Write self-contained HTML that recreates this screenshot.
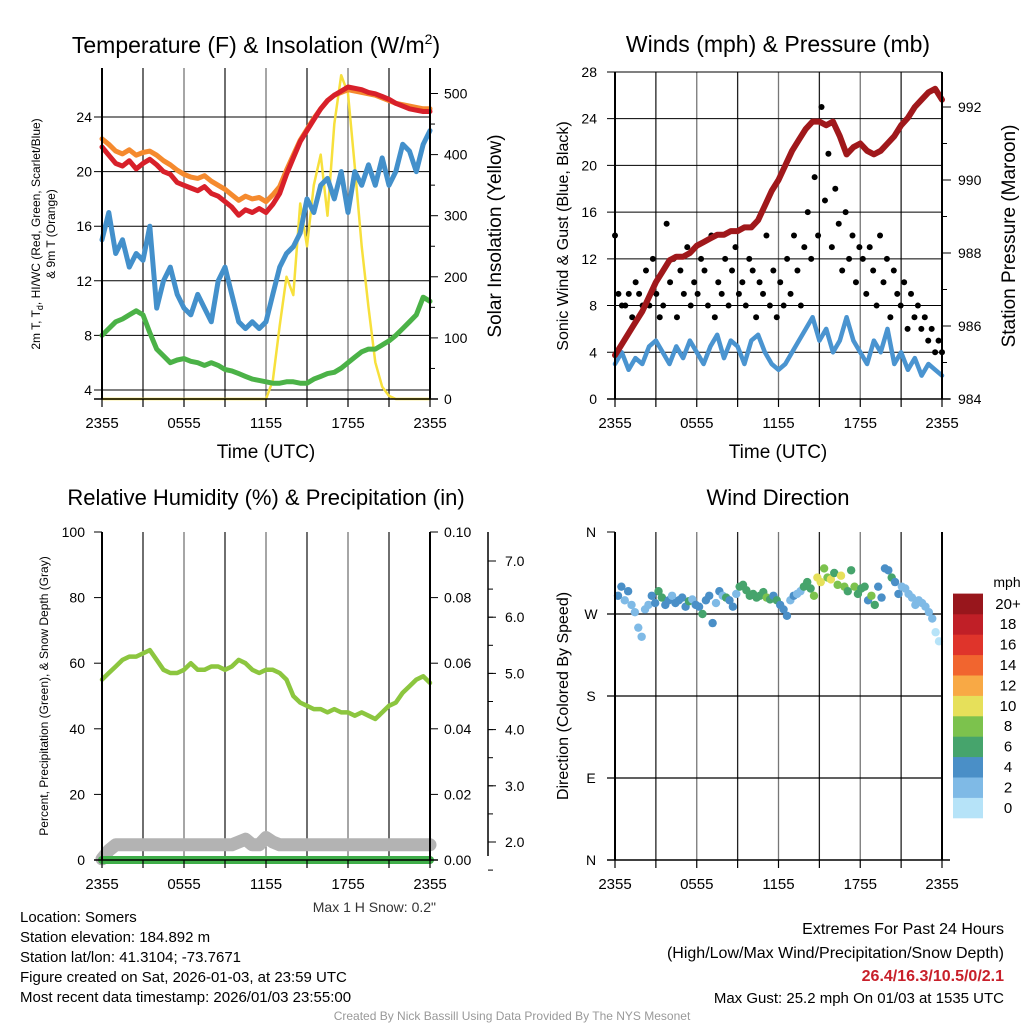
<!DOCTYPE html>
<html><head><meta charset="utf-8"><style>
body{margin:0;background:#fff}
svg text{font-family:"Liberation Sans",Arial,sans-serif}
</style></head><body>
<svg id="c" width="1024" height="1024" viewBox="0 0 1024 1024" xmlns="http://www.w3.org/2000/svg">
<rect width="1024" height="1024" fill="#fff"/>
<g id="g"></g>
</svg>
<script>
// ---------- DATA ----------
const timeTicks = ["2355","0555","1155","1755","2355"];
const tempTicks = [4,8,12,16,20,24];
const solarTicks = [0,100,200,300,400,500];
const tempT = [21.8,21.2,20.6,20.4,20.8,20.2,20.6,20.9,20.5,20.0,19.8,19.2,19.0,18.8,18.6,18.9,18.4,18.2,17.8,17.4,16.8,17.2,17.0,17.3,17.0,17.6,18.4,19.8,21.0,22.2,23.0,23.8,24.6,25.2,25.6,25.9,26.2,26.1,26.0,25.8,25.7,25.5,25.3,25.0,24.8,24.6,24.5,24.4,24.4];
const temp9m = [22.4,22.0,21.5,21.3,21.6,21.2,21.4,21.5,21.2,20.8,20.5,20.1,19.8,19.6,19.5,19.7,19.3,19.0,18.7,18.3,17.9,18.2,18.0,18.1,17.8,18.3,18.9,20.1,21.2,22.3,23.1,23.9,24.6,25.2,25.6,25.8,26.0,25.9,25.8,25.7,25.6,25.4,25.2,25.0,24.9,24.8,24.7,24.6,24.6];
const dewGreen = [8.0,8.5,9.0,9.2,9.5,9.8,9.5,8.2,7.0,6.5,6.0,6.2,6.3,6.1,6.0,5.8,6.0,5.8,5.5,5.4,5.2,5.0,4.8,4.7,4.6,4.5,4.5,4.6,4.6,4.5,4.5,4.8,5.0,5.2,5.3,5.6,6.0,6.4,6.8,7.0,7.0,7.3,7.6,8.0,8.5,9.0,9.5,10.8,10.5];
const hiBlue = [15,17,14,15,13,14,13.5,16,10,12,13,11,10,9.5,11,10,9,12,13,11,9,8.5,9,8.5,9,11,13,14,14.5,15.5,18,17,19,19.5,18,20,17,20,19,20.5,19,21,19,20,22,21.5,20,22,23];
const solar = [0,0,0,0,0,0,0,0,0,0,0,0,0,0,0,0,0,0,0,0,0,0,0,0,0,30,120,200,170,320,250,350,400,300,450,530,500,380,250,150,60,20,5,0,0,0,0,0,0];

const windTicks = [0,4,8,12,16,20,24,28];
const presTicks = [984,986,988,990,992];
const sonicWind = [3,4,2.5,3.5,3,4.5,5,4,3,4.5,3.5,5,4,3,4.5,5.5,3.5,5,4.5,3,5,5.5,4,3,2.5,3,4,5,6,7,5,6,4,5,7,5,4,3,5,4,6,3,4,2.5,3.5,2,3,2.5,2];
const pressure = [985.2,985.5,985.8,986.1,986.4,986.8,987.2,987.5,987.8,987.9,987.9,988.0,988.2,988.3,988.4,988.5,988.5,988.6,988.6,988.7,988.7,988.9,989.3,989.7,990.0,990.4,990.8,991.1,991.4,991.6,991.6,991.5,991.6,991.2,990.7,990.9,991.0,990.8,990.7,990.8,991.0,991.2,991.5,991.7,992.0,992.2,992.4,992.5,992.2];
const gusts = [14,9,8,8,9,7,10,9,8,11,8,12,9,7,8,15,10,12,7,11,9,13,8,10,
 9,12,11,8,14,7,10,9,12,8,11,13,9,10,8,12,11,7,10,9,14,8,11,7,
 10,8,12,9,14,11,8,13,16,12,19,14,25,17,21,13,18,15,11,16,12,14,10,13,
 12,9,13,11,8,14,10,12,7,11,9,8,10,6,9,7,8,6,7,5,6,4,5,4];

const rhTicks = [0,20,40,60,80,100];
const precipTicks = ["0.00","0.02","0.04","0.06","0.08","0.10"];
const snowTicks = [2.0,3.0,4.0,5.0,6.0,7.0];
const rh = [55,57,59,61,62,62,63,64,61,58,57,57,58,60,58,58,59,59,58,59,61,60,58,57,58,58,57,55,50,48,47,46,46,45,46,45,45,44,45,44,43,45,47,48,51,53,55,56,54];
const precip = [0,0,0,0,0,0,0,0,0,0,0,0,0,0,0,0,0,0,0,0,0,0,0,0,0,0,0,0,0,0,0,0,0,0,0,0,0,0,0,0,0,0,0,0,0,0,0,0,0];
const snowDepth = [1.7,1.85,1.95,1.95,1.95,1.95,1.95,1.95,1.95,1.95,1.95,1.95,1.95,1.95,1.95,1.95,1.95,1.95,1.95,1.95,2.0,2.05,1.95,1.95,2.08,2.0,1.95,1.95,1.95,1.95,1.95,1.95,1.95,1.95,1.95,1.95,1.95,1.95,1.95,1.95,1.95,1.95,1.95,1.95,1.95,1.95,1.95,1.95,1.95];

const dirTicks = ["N","E","S","W","N"];
const windDir = [290,300,285,295,280,272,255,245,275,280,290,282,
 295,288,280,285,290,282,285,288,278,284,286,280,
 278,270,285,290,260,282,295,290,288,285,278,292,
 300,302,296,290,292,288,290,294,288,286,290,285,
 280,275,268,285,290,292,295,300,305,298,290,310,
 305,320,310,308,315,302,312,300,295,318,300,292,
 298,300,285,290,280,300,288,320,318,310,305,292,
 300,298,292,288,280,285,282,278,272,265,250,240];
const dirSpeed = [4,4,3,4,2,2,2,2,2,3,4,5, 6,6,4,4,3,4,5,4,4,6,3,4, 5,6,4,4,4,3,4,3,6,4,4,3,
 6,7,7,6,7,6,7,6,8,6,5,7, 5,4,4,3,4,3,3,6,6,7,9,11, 10,9,8,11,7,8,10,9,6,7,8,6,
 7,6,5,9,7,4,4,4,5,6,4,4, 3,3,2,3,2,2,2,2,2,2,1,1];
const cbLabels = ["0","2","4","6","8","10","12","14","16","18","20+"];
const cbColors = ["#b6e3f8","#7fbae6","#4a8fc7","#46a46c","#7cc24d","#e6e05a","#f8a945","#f1652f","#df342b","#c01f27","#98161c"];

// ---------- DRAW ----------
const NS="http://www.w3.org/2000/svg";
const G=document.getElementById('g');
function el(tag,attrs,parent){const e=document.createElementNS(NS,tag);for(const k in attrs)e.setAttribute(k,attrs[k]);(parent||G).appendChild(e);return e;}
function txt(s,x,y,size,anchor,parent,extra){const t=el('text',Object.assign({x:x,y:y,'font-size':size,'text-anchor':anchor||'middle',fill:'#000'},extra||{}),parent);t.textContent=s;return t;}
function lin(x1,y1,x2,y2,c,w,parent){return el('line',{x1,y1,x2,y2,stroke:c,'stroke-width':w},parent);}
function poly(xs,ys,c,w,parent){const p=xs.map((x,i)=>x.toFixed(1)+','+ys[i].toFixed(1)).join(' ');return el('polyline',{points:p,fill:'none',stroke:c,'stroke-width':w,'stroke-linejoin':'round','stroke-linecap':'round'},parent);}
function group(name){const g=el('g',{});return g;}

function timeAxis(g,x0,x1,yb){
  for(let k=0;k<=8;k++){const x=x0+(x1-x0)*k/8;lin(x,yb,x,yb+8,'#000',1.2,g);}
  timeTicks.forEach((s,k)=>{const t=txt(s,x0+(x1-x0)*k/4,yb+29,15,'middle',g);});
}
function vgrid(g,x0,x1,yt,yb){for(let k=1;k<8;k++){const x=x0+(x1-x0)*k/8;lin(x,yt,x,yb,k%2?'#222':'#777',1.3,g);}}

// ===== Panel 1 =====
(function(){
 const g=group('temperature-panel');
 const X0=102,X1=430,YT=68,YB=399;
 const n=tempT.length;
 const xs=i=>X0+(X1-X0)*i/(n-1);
 const yT=v=>390-(v-4)*13.65;
 const yS=v=>399-v*0.611;
 vgrid(g,X0,X1,YT,YB);
 tempTicks.forEach(v=>{lin(X0-8,yT(v),X1,yT(v),'#000',1,g);const t=txt(String(v),92,yT(v)+5,14,'end',g);});
 solarTicks.forEach(v=>{lin(X1,yS(v),X1+8,yS(v),'#000',1,g);const t=txt(String(v),444,yS(v)+5,14,'start',g);});
 for(let v=50;v<540;v+=100)lin(X1,yS(v),X1+5,yS(v),'#000',1,g);
 const idx=[...Array(n).keys()];
 const sl=poly(idx.map(xs),solar.map(yS),'#f7e03c',2.5,g);
 const bl=poly(idx.map(xs),hiBlue.map(yT),'#4390cb',5,g);
 const gl=poly(idx.map(xs),dewGreen.map(yT),'#4bb247',5,g);
 const ol=poly(idx.map(xs),temp9m.map(yT),'#f58a2e',5,g);
 const rl=poly(idx.map(xs),tempT.map(yT),'#d8202a',5,g);
 lin(X0,YT,X0,YB,'#000',2,g);lin(X1,YT,X1,YB,'#000',2,g);lin(X0-8,YB,X1+8,YB,'#000',1.5,g);
 timeAxis(g,X0,X1,YB);
 const tt=txt('Temperature (F) & Insolation (W/m',256,53,23,'middle',g);const ts=el('tspan',{dy:-9,'font-size':14},tt);ts.textContent='2';const ts2=el('tspan',{dy:9},tt);ts2.textContent=')';
 
 const xt=txt('Time (UTC)',266,458,19,'middle',g);
 const yl=el('text',{transform:'translate(40,234) rotate(-90)','font-size':12,'text-anchor':'middle'},g);
 yl.appendChild(document.createTextNode('2m T, T'));
 const sub=el('tspan',{dy:3,'font-size':9},yl);sub.textContent='d';
 const rest=el('tspan',{dy:-3},yl);rest.textContent=', HI/WC (Red, Green, Scarlet/Blue)';
 
 const yl2=el('text',{transform:'translate(55,234) rotate(-90)','font-size':12,'text-anchor':'middle'},g);yl2.textContent='& 9m T (Orange)';
 const yr=el('text',{transform:'translate(501,236) rotate(-90)','font-size':19,'text-anchor':'middle'},g);yr.textContent='Solar Insolation (Yellow)';
})();

// ===== Panel 2 =====
(function(){
 const g=group('winds-panel');
 const X0=615,X1=942,YT=72,YB=399;
 const n=pressure.length;
 const xs=i=>X0+(X1-X0)*i/(n-1);
 const yW=v=>399-v*11.68;
 const yP=v=>399-(v-984)*36.5;
 vgrid(g,X0,X1,YT,YB);
 windTicks.forEach(v=>{lin(X0-8,yW(v),X1,yW(v),'#000',1,g);const t=txt(String(v),597,yW(v)+5,14,'end',g);});
 presTicks.forEach(v=>{lin(X1,yP(v),X1+9,yP(v),'#000',1,g);const t=txt(String(v),958,yP(v)+5,14,'start',g);});
 for(let v=985;v<993;v+=2)lin(X1,yP(v),X1+5,yP(v),'#000',1,g);
 const idx=[...Array(n).keys()];
 const bl=poly(idx.map(xs),sonicWind.map(yW),'#4a94d0',4.5,g);
 gusts.forEach((v,i)=>{const c=el('circle',{cx:X0+(X1-X0)*i/(gusts.length-1),cy:yW(v),r:3,fill:'#000'},g);
  
  });
 const pl=poly(idx.map(xs),pressure.map(yP),'#a0181b',6,g);
 lin(X0,YT,X0,YB,'#000',2,g);lin(X1,YT,X1,YB,'#000',2,g);lin(X0-8,YB,X1+8,YB,'#000',1.5,g);
 timeAxis(g,X0,X1,YB);
 const tt=txt('Winds (mph) & Pressure (mb)',778,52,23,'middle',g);
 const xt=txt('Time (UTC)',778,458,19,'middle',g);
 const yl=el('text',{transform:'translate(568,236) rotate(-90)','font-size':16,'text-anchor':'middle'},g);yl.textContent='Sonic Wind & Gust (Blue, Black)';
 const yr=el('text',{transform:'translate(1015,236) rotate(-90)','font-size':19,'text-anchor':'middle'},g);yr.textContent='Station Pressure (Maroon)';
})();

// ===== Panel 3 =====
(function(){
 const g=group('humidity-panel');
 const X0=102,X1=430,YT=532,YB=860;
 const n=rh.length;
 const xs=i=>X0+(X1-X0)*i/(n-1);
 const yR=v=>860-v*3.28;
 const yPr=v=>860-v*3280;
 const ySn=v=>842-(v-2)*56.2;
 vgrid(g,X0,X1,YT,YB);
 rhTicks.forEach(v=>{lin(X0-8,yR(v),X0,yR(v),'#000',1,g);const t=txt(String(v),85,yR(v)+5,14,'end',g);});
 precipTicks.forEach((s,k)=>{const y=860-k*65.6;lin(X1,y,X1+8,y,'#000',1,g);const t=txt(s,444,y+5,14,'start',g);});
 lin(488,532,488,856,'#000',1.5,g);
 snowTicks.forEach(v=>{lin(488,ySn(v),496,ySn(v),'#000',1,g);const t=txt(v.toFixed(1),505,ySn(v)+5,14,'start',g);});
 for(let v=1.5;v<7.5;v+=0.5)lin(488,ySn(v),493,ySn(v),'#000',1,g);
 const idx=[...Array(n).keys()];
 const sl=poly(idx.map(xs),snowDepth.map(ySn),'#b3b3b3',13,g);
 const pl=poly(idx.map(xs),precip.map(yPr),'#3fae49',8,g);
 const rl=poly(idx.map(xs),rh.map(yR),'#8cc63f',4.5,g);
 lin(X0,YT,X0,YB,'#000',2,g);lin(X1,YT,X1,YB,'#000',2,g);lin(X0-8,YB,X1+8,YB,'#000',1.5,g);
 timeAxis(g,X0,X1,YB);
 const tt=txt('Relative Humidity (%) & Precipitation (in)',266,505,22,'middle',g);
 const yl=el('text',{transform:'translate(48,696) rotate(-90)','font-size':12,'text-anchor':'middle'},g);yl.textContent='Percent, Precipitation (Green), & Snow Depth (Gray)';
 const ms=txt('Max 1 H Snow: 0.2"',436,912,14,'end',g,{fill:'#333'});
})();

// ===== Panel 4 =====
(function(){
 const g=group('wind-direction-panel');
 const X0=615,X1=942,YT=532,YB=860;
 const yD=v=>860-v/360*328;
 const n=windDir.length;
 vgrid(g,X0,X1,YT,YB);
 dirTicks.forEach((s,k)=>{const y=yD(k*90);if(k>0&&k<4)lin(X0-8,y,X1,y,'#000',1.2,g);else lin(X0-8,y,X0,y,'#000',1,g);const t=txt(s,591,y+5,14,'middle',g);});
 windDir.forEach((d,i)=>{const ci=Math.min(10,Math.floor(dirSpeed[i]/2));const c=el('circle',{cx:X0+3+(X1-X0-6)*i/(n-1),cy:yD(d),r:4.2,fill:cbColors[ci]},g);
  
  });
 lin(X0,YT,X0,YB,'#000',2,g);lin(X1,YT,X1,YB,'#000',2,g);lin(X0-8,YB,X1+8,YB,'#000',1.5,g);
 timeAxis(g,X0,X1,YB);
 const tt=txt('Wind Direction',778,505,22,'middle',g);
 const yl=el('text',{transform:'translate(568,696) rotate(-90)','font-size':16,'text-anchor':'middle'},g);yl.textContent='Direction (Colored By Speed)';
 const cb=group('speed-colorbar');
 const bh=20.4;
 cbColors.forEach((c,k)=>{const r=el('rect',{x:953,y:818-(k+1)*bh,width:30,height:bh+0.3,fill:c},cb);
  
  
  const t=txt(cbLabels[k],1008,818-(k+0.5)*bh+5,15,'middle',cb);});
 const m=txt('mph',1007,587,14,'middle',cb);
})();

// ===== Footer =====
(function(){
 const g=group('footer');
 ["Location: Somers","Station elevation: 184.892 m","Station lat/lon: 41.3104; -73.7671","Figure created on Sat, 2026-01-03, at 23:59 UTC","Most recent data timestamp: 2026/01/03 23:55:00"].forEach((s,k)=>{const t=txt(s,20,922+k*20,15,'start',g);});
 const a=txt('Extremes For Past 24 Hours',1004,934,16,'end',g);
 const b=txt('(High/Low/Max Wind/Precipitation/Snow Depth)',1004,958,16,'end',g);
 const c=txt('26.4/16.3/10.5/0/2.1',1004,981,16,'end',g,{fill:'#c8202a','font-weight':'bold'});
 const d=txt('Max Gust: 25.2 mph On 01/03 at 1535 UTC',1004,1003,15,'end',g);
 const e=txt('Created By Nick Bassill Using Data Provided By The NYS Mesonet',512,1020,12,'middle',g,{fill:'#999'});
})();
</script>
</body></html>
